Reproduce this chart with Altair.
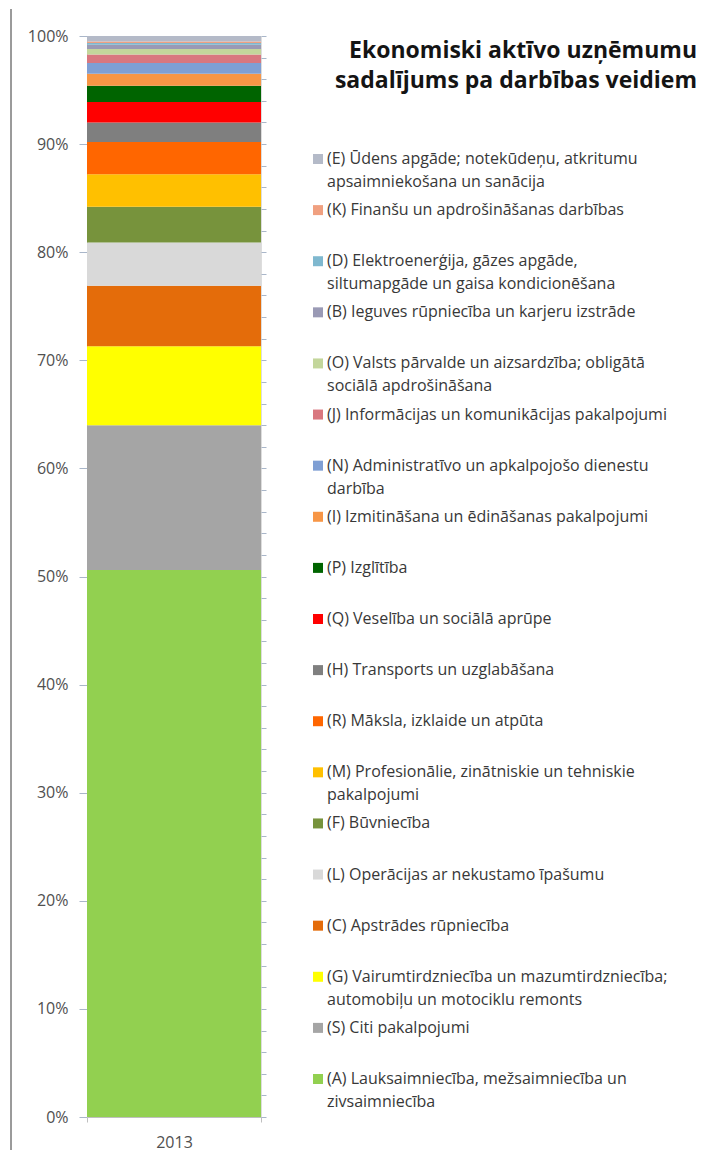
import altair as alt
import pandas as pd

# ---- data (bottom of the stack first) ----
codes = ["A", "S", "G", "C", "L", "F", "M", "R", "H", "Q", "P", "I", "N", "J", "O", "B", "D", "K", "E"]
labels = [
    "(A) Lauksaimniecība, mežsaimniecība un\nzivsaimniecība",
    "(S) Citi pakalpojumi",
    "(G) Vairumtirdzniecība un mazumtirdzniecība;\nautomobiļu un motociklu remonts",
    "(C) Apstrādes rūpniecība",
    "(L) Operācijas ar nekustamo īpašumu",
    "(F) Būvniecība",
    "(M) Profesionālie, zinātniskie un tehniskie\npakalpojumi",
    "(R) Māksla, izklaide un atpūta",
    "(H) Transports un uzglabāšana",
    "(Q) Veselība un sociālā aprūpe",
    "(P) Izglītība",
    "(I) Izmitināšana un ēdināšanas pakalpojumi",
    "(N) Administratīvo un apkalpojošo dienestu\ndarbība",
    "(J) Informācijas un komunikācijas pakalpojumi",
    "(O) Valsts pārvalde un aizsardzība; obligātā\nsociālā apdrošināšana",
    "(B) Ieguves rūpniecība un karjeru izstrāde",
    "(D) Elektroenerģija, gāzes apgāde,\nsiltumapgāde un gaisa kondicionēšana",
    "(K) Finanšu un apdrošināšanas darbības",
    "(E) Ūdens apgāde; notekūdeņu, atkritumu\napsaimniekošana un sanācija",
]
shares = [50.6, 13.4, 7.3, 5.6, 4.0, 3.3, 3.0, 3.0, 1.8, 1.9, 1.5, 1.1, 1.0, 0.8, 0.5, 0.4, 0.15, 0.15, 0.5]
colors = ["#92D050", "#A5A5A5", "#FFFF00", "#E46C0A", "#D9D9D9", "#77933C", "#FFC000", "#FF6600",
          "#7F7F7F", "#FF0000", "#006400", "#F79646", "#7F9FD4", "#D9777F", "#C3D69B", "#9A9AB5",
          "#7FB8CF", "#F0A080", "#B4BAC8"]
year = "2013"
title_text = "Ekonomiski aktīvo uzņēmumu\nsadalījums pa darbības veidiem"

df = pd.DataFrame({
    "code": codes,
    "label": labels,
    "share": shares,
    "rank": list(range(len(codes))),
    "year": [year] * len(codes),
})
legend_order = codes[::-1]

FONT = "Open Sans"
PLOT_W = 174
PLOT_H = 1081

color = alt.Color("code:N", scale=alt.Scale(domain=codes, range=colors), legend=None)

x_enc = alt.X(
    "year:N", title=None,
    scale=alt.Scale(paddingInner=0, paddingOuter=0),
    axis=alt.Axis(labelAngle=0, tickBand="extent", tickSize=5, tickColor="#BFBFBF",
                  domainColor="#BFBFBF", labelPadding=12, labelFont=FONT, labelFontSize=16,
                  labelColor="#505050"),
)

base = alt.Chart(df)

bars = base.mark_bar().encode(
    x=x_enc,
    y=alt.Y("share:Q", stack="normalize", title=None,
            axis=alt.Axis(format="%", tickCount=10, grid=False, tickSize=8, tickColor="#A9B6C9",
                          domainColor="#D0D0D0", labelPadding=11, labelFont=FONT,
                          labelFontSize=16, labelColor="#505050")),
    color=color,
    order=alt.Order("rank:Q"),
)

minor = base.mark_bar(opacity=0).encode(
    x=x_enc,
    y=alt.Y("share:Q", stack="normalize", title=None,
            axis=alt.Axis(tickCount=50, labels=False, domain=False, grid=False,
                          tickSize=5, tickColor="#A9B6C9")),
    order=alt.Order("rank:Q"),
)

frame = base.mark_rule(color="#9A9A9A", strokeWidth=1).encode(
    x=alt.value(-76), y=alt.value(-27), y2=alt.value(PLOT_H + 33)
)

inner = alt.layer(bars, minor, frame).resolve_axis(y="independent")

leg_y = alt.Y("code:N", sort=legend_order,
              scale=alt.Scale(type="point", domain=legend_order, range=[123, 1043], padding=0),
              axis=None)

leg_sym = base.mark_square(size=100, opacity=1).encode(
    x=alt.value(231), y=leg_y, color=color
)

leg_txt = base.mark_text(align="left", baseline="middle", lineBreak="\n", lineHeight=23,
                         font=FONT, fontSize=16, color="#383838").encode(
    x=alt.value(240), y=leg_y, text="label:N"
)

title = alt.Chart(pd.DataFrame({"t": [title_text]})).mark_text(
    align="right", baseline="middle", lineBreak="\n", lineHeight=30,
    font=FONT, fontSize=23, fontWeight="bold", color="#141414"
).encode(x=alt.value(610), y=alt.value(15), text="t:N")

chart = alt.layer(inner, leg_sym, leg_txt, title).resolve_scale(
    y="independent", x="independent"
).properties(
    width=PLOT_W, height=PLOT_H,
    padding={"left": 2, "top": 0, "right": 0, "bottom": 0},
).configure_view(stroke=None).configure(background="white")

chart.save("out.html", embed_options={"renderer": "svg", "actions": False})
